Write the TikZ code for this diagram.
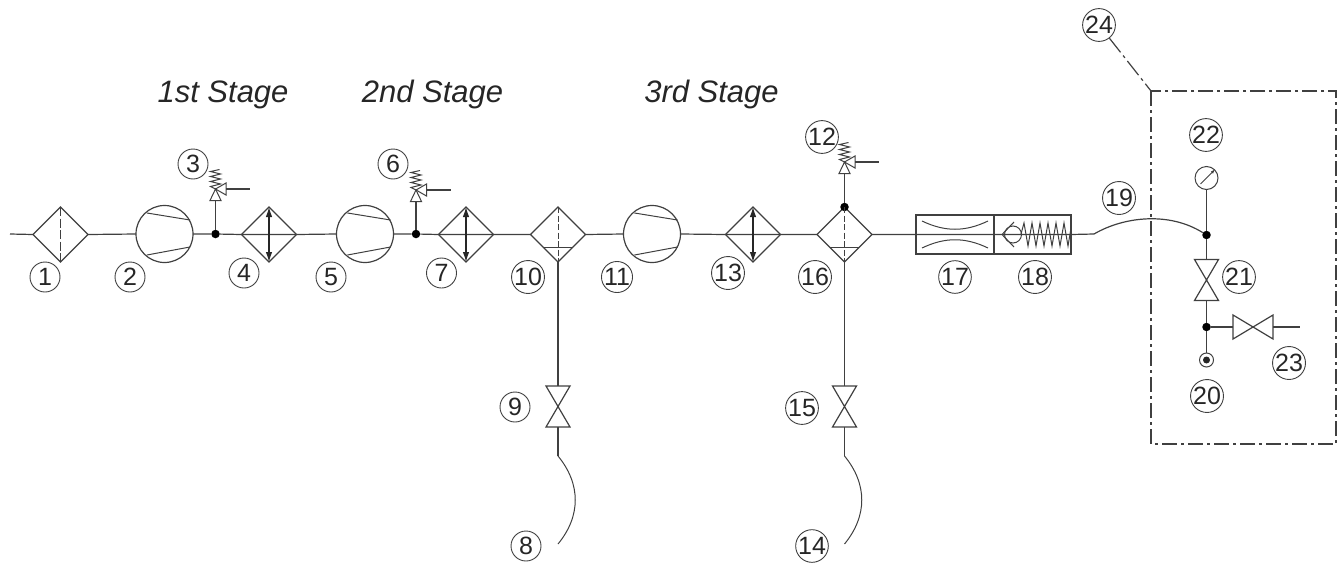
\documentclass[tikz,border=0pt]{standalone}
\usepackage{fontspec}
\setmainfont{Liberation Sans}
\usetikzlibrary{shapes.geometric,arrows.meta}
\definecolor{ink}{gray}{0.25}
\tikzset{
  base/.style={draw=ink,line width=1.2pt,line cap=butt},
  lbl/.style={circle,draw=ink,line width=0.9pt,minimum size=30pt,inner sep=0pt,text=black!85,font=\fontsize{25}{25}\selectfont},
  stagelbl/.style={font=\fontsize{31}{31}\selectfont\itshape,text=black!85,inner sep=0pt,anchor=base},
  dia/.style={diamond,aspect=1,base,minimum width=55pt,minimum height=55pt,inner sep=0pt,outer sep=0pt},
  comp/.style={circle,base,minimum size=57pt,inner sep=0pt,outer sep=0pt},
  jct/.style={circle,fill=black,draw=none,minimum size=8.5pt,inner sep=0pt},
  pics/vvalve/.style={code={
    \coordinate (-top) at (0,-20.5);
    \coordinate (-bot) at (0,20.5);
    \draw[base] (-12,-20.5)--(12,-20.5)--(-12,20.5)--(12,20.5)--cycle;
  }},
  pics/hvalve/.style={code={
    \coordinate (-left) at (-20,0);
    \coordinate (-right) at (20,0);
    \draw[base] (-20,-12)--(-20,12)--(20,-12)--(20,12)--cycle;
  }},
  pics/relief/.style={code={
    \coordinate (-bot) at (0,11.5);
    \coordinate (-r) at (10.5,0);
    \coordinate (-tail) at (34.5,0);
    \draw[base,line width=1pt] (0,0)--(-5.5,11.5)--(5.5,11.5)--cycle;
    \draw[base,line width=1pt] (0,0)--(10.5,-6)--(10.5,6)--cycle;
    \draw[base,line width=1pt] (0,0)--(-5,-2.5)--(5,-5)--(-5,-7.5)--(5,-10)--(-5,-12.5)--(5,-15)--(-5,-17.5)--(4,-19.5);
  }},
  pics/comprlines/.style={code={
    \draw[base,line width=1pt] (-17.5,-21)--(25.5,-14);
    \draw[base,line width=1pt] (-17.5,21)--(25.5,13);
  }}
}
\newcommand{\dualarrow}[1]{\draw[draw=black!85,line width=1.1pt,{Latex[length=10pt,width=6.5pt]}-{Latex[length=10pt,width=6.5pt]}] (#1.north)--(#1.south);}
\begin{document}
\begin{tikzpicture}[x=1pt,y=-1pt]
\useasboundingbox (0,0) rectangle (1337,562);
% stage titles
\node[stagelbl] (s1) at (223,102) {1st Stage};
\node[stagelbl] (s2) at (432.5,102) {2nd Stage};
\node[stagelbl] (s3) at (711.5,102) {3rd Stage};
% main-line components
\coordinate (in) at (10,234);
\node[dia] (f1) at (60.5,234.5) {};
\node[comp] (c2) at (164.5,234) {};
\pic at (164.5,234) {comprlines};
\node[jct] (j3) at (215.5,234) {};
\node[dia] (h4) at (269,234.5) {};
\node[comp] (c5) at (365,234) {};
\pic at (365,234) {comprlines};
\node[jct] (j6) at (416,234) {};
\node[dia] (h7) at (466,234.5) {};
\node[dia] (f10) at (558,234.5) {};
\node[comp] (c11) at (652,234) {};
\pic at (652,234) {comprlines};
\node[dia] (h13) at (753,234.5) {};
\node[dia] (f16) at (844.5,234.5) {};
\node[jct] (j12) at (844.5,207) {};
\node[base,minimum width=78pt,minimum height=39pt,inner sep=0pt,outer sep=0pt] (b17) at (955,234.5) {};
\node[base,minimum width=77pt,minimum height=39pt,inner sep=0pt,outer sep=0pt] (b18) at (1032.5,234.5) {};
% relief valves
\pic (r3) at (215.5,189) {relief};
\pic (r6) at (416,190) {relief};
\pic (r12) at (844.5,162) {relief};
% drain valves
\pic (v9) at (558,406.5) {vvalve};
\pic (v15) at (844.5,406.5) {vvalve};
\coordinate (h9) at (558,456);
\coordinate (e8) at (558,544);
\coordinate (h15) at (844.5,456);
\coordinate (e14) at (844.5,544);
% right box elements
\coordinate (h19) at (1094,234);
\node[jct] (j21) at (1206.5,235) {};
\node[circle,base,line width=1pt,minimum size=23pt,inner sep=0pt,outer sep=0pt] (g22) at (1206.5,178) {};
\pic (v21) at (1206.5,280) {vvalve};
\node[jct] (j23) at (1206.5,327) {};
\node[circle,base,line width=1pt,minimum size=14pt,inner sep=0pt,outer sep=0pt] (p20) at (1206.5,360) {};
\node[circle,fill=black!85,minimum size=7pt,inner sep=0pt] (p20i) at (1206.5,360) {};
\pic (v23) at (1253,327) {hvalve};
\coordinate (t23) at (1300,327);
\coordinate (tl) at (1151,91);
\coordinate (br) at (1336,444);
% main line
\draw[base] (in)--(f1.west) (f1.east)--(c2.west) (c2.east)--(j3)--(h4.west)--(h4.east)--(c5.west);
\draw[base] (c5.east)--(j6)--(h7.west)--(h7.east)--(f10.west) (f10.east)--(c11.west);
\draw[base] (c11.east)--(h13.west)--(h13.east)--(f16.west) (f16.east)--(b17.west);
\draw[base] (b17.west)--(b18.east)--(h19);
\draw[base] (h19) .. controls (1125,216) and (1170,212) .. (j21);
% filter and cooler internals
\draw[base,line width=1pt,dash pattern=on 9pt off 2.5pt] (f1.north)--(f1.south);
\draw[base,line width=1pt,dash pattern=on 6pt off 2.5pt] (f10.north)--(f10.south);
\draw[base,line width=1pt,dash pattern=on 6pt off 2.5pt] (f16.north)--(f16.south);
\draw[base] ([shift={(-14.5,13)}]f10.center)--([shift={(14.5,13)}]f10.center);
\draw[base] ([shift={(-14.5,13)}]f16.center)--([shift={(14.5,13)}]f16.center);
\dualarrow{h4}\dualarrow{h7}\dualarrow{h13}
% relief connections
\draw[base] (j3)--(r3-bot);
\draw[base] (r3-r)--(r3-tail);
\draw[base] (j6)--(r6-bot);
\draw[base] (r6-r)--(r6-tail);
\draw[base] (j12)--(r12-bot);
\draw[base] (r12-r)--(r12-tail);
% drains
\draw[base] (f10.south)--(v9-top);
\draw[base] (v9-bot)--(h9);
\draw[base,line width=1pt] (h9) .. controls (581,484) and (581,516) .. (e8);
\draw[base] (f16.south)--(v15-top);
\draw[base] (v15-bot)--(h15);
\draw[base,line width=1pt] (h15) .. controls (867.5,484) and (867.5,516) .. (e14);
% box 17 venturi
\draw[base,line width=1pt] (922,221) .. controls (945,232) and (965,232) .. (988,221);
\draw[base,line width=1pt] (922,248) .. controls (945,237) and (965,237) .. (988,248);
% box 18 check valve and spring
\node[circle,base,line width=1pt,minimum size=17pt,inner sep=0pt,outer sep=0pt] (k18) at (1013,234.5) {};
\draw[base,line width=1pt] (1014,222)--(1002,234.5)--(1014,247);
\draw[base,line width=1pt] (1021,234)--(1024,223)--(1028,246)--(1032,223)--(1036,246)--(1040,223)--(1044,246)--(1048,223)--(1052,246)--(1056,223)--(1060,246)--(1064,223)--(1068,246)--(1071,228);
% right box piping
\draw[base] (g22.south)--(j21)--(v21-top);
\draw[base] (v21-bot)--(j23)--(p20.north);
\draw[base] (j23)--(v23-left);
\draw[base] (v23-right)--(t23);
\draw[base,line width=0.9pt,-{Latex[length=5pt,width=3pt]}] ([shift={(-6,6)}]g22.center)--([shift={(9,-9)}]g22.center);
% dash-dot enclosure
\draw[base,line width=1.3pt,dash pattern=on 15pt off 4pt on 3pt off 4pt] (tl) rectangle (br);
% labels
\node[lbl] (n1) at (45,277) {1};
\node[lbl] (n2) at (130,277) {2};
\node[lbl] (n3) at (193,164) {3};
\node[lbl] (n4) at (244,273) {4};
\node[lbl] (n5) at (331,277) {5};
\node[lbl] (n6) at (393,164) {6};
\node[lbl] (n7) at (441.5,273) {7};
\node[lbl] (n8) at (526,546) {8};
\node[lbl] (n9) at (515,407) {9};
\node[lbl] (n10) at (528,277) {10};
\node[lbl] (n11) at (617,277) {11};
\node[lbl] (n12) at (822,137) {12};
\node[lbl] (n13) at (728,273) {13};
\node[lbl] (n14) at (812,546) {14};
\node[lbl] (n15) at (802,408) {15};
\node[lbl] (n16) at (815,277) {16};
\node[lbl] (n17) at (955,277) {17};
\node[lbl] (n18) at (1035,277) {18};
\node[lbl] (n19) at (1119,198) {19};
\node[lbl] (n20) at (1207,396) {20};
\node[lbl] (n21) at (1239,277) {21};
\node[lbl] (n22) at (1206,135) {22};
\node[lbl] (n23) at (1289,363) {23};
\node[lbl] (n24) at (1099,25) {24};
\draw[base,dash pattern=on 18pt off 4pt on 3pt off 4pt] (n24)--(tl);
\end{tikzpicture}
\end{document}
